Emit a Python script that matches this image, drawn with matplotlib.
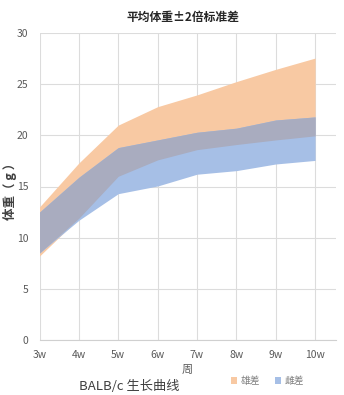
import numpy as np
import matplotlib
matplotlib.use("Agg")
import matplotlib.pyplot as plt
from matplotlib.patches import Patch

plt.rcParams['font.family'] = ['Noto Sans CJK SC', 'DejaVu Sans']

weeks = ["3w", "4w", "5w", "6w", "7w", "8w", "9w", "10w"]
# mean ± 2 SD body weight (g)
male_upper = [13.0, 17.3, 21.0, 22.8, 23.95, 25.25, 26.45, 27.55]
male_lower = [8.2, 11.9, 16.0, 17.6, 18.6, 19.1, 19.55, 19.95]
female_upper = [12.5, 15.9, 18.8, 19.55, 20.3, 20.7, 21.5, 21.8]
female_lower = [8.5, 11.7, 14.3, 15.05, 16.2, 16.55, 17.2, 17.55]

c_male = "#F8C9A3"
c_female = "#A6BFE6"
c_both = "#A9ACBF"

fig = plt.figure(figsize=(3.44, 3.95), dpi=100)
ax = fig.add_axes([39.5 / 344, 55 / 395, (336 - 39.5) / 344, (340 - 33) / 395])

x = np.arange(len(weeks))
mu, ml = np.array(male_upper), np.array(male_lower)
fu, fl = np.array(female_upper), np.array(female_lower)
ax.fill_between(x, ml, mu, color=c_male, lw=0, zorder=2)
ax.fill_between(x, fl, fu, color=c_female, lw=0, zorder=3)
ax.fill_between(x, np.maximum(ml, fl), np.minimum(mu, fu), color=c_both, lw=0, zorder=4)

ax.set_xlim(0, 7.53)
ax.set_ylim(0, 30)
ax.set_xticks(x)
ax.set_xticklabels(weeks)
ax.set_yticks(np.arange(0, 31, 5))
ax.grid(True, color="#DCDCDC", lw=0.8, zorder=0)
ax.set_axisbelow(True)
for s in ["top", "right", "left"]:
    ax.spines[s].set_visible(False)
ax.spines["bottom"].set_color("#D0D0D0")
ax.spines["bottom"].set_linewidth(0.8)
ax.tick_params(length=0, labelsize=7.5, colors="#595959", pad=7)
ax.tick_params(axis='y', pad=8)

fig.text(183 / 344, 1 - 17 / 395, "平均体重±2倍标准差", ha="center", va="center",
         fontsize=8.5, fontweight="bold", color="#262626")
fig.text(187 / 344, 1 - 370 / 395, "周", ha="center", va="center",
         fontsize=8, color="#595959")
fig.text(10 / 344, 1 - 188 / 395, "体重（ g ）", ha="center", va="center",
         rotation=90, fontsize=9, fontweight="bold", color="#404040")
fig.text(79 / 344, 1 - 386 / 395, "BALB/c 生长曲线", ha="left", va="center",
         fontsize=9.5, color="#404040")

handles = [Patch(facecolor=c_male, edgecolor="none", label="雄差"),
           Patch(facecolor=c_female, edgecolor="none", label="雌差")]
fig.legend(handles=handles, loc="center", bbox_to_anchor=(268 / 344, 1 - 381 / 395),
           ncol=2, frameon=False, fontsize=7, labelcolor="#7F7F7F",
           handlelength=0.6, handleheight=0.6, handletextpad=0.4, columnspacing=1.5)

fig.savefig("out.png", dpi=100)
